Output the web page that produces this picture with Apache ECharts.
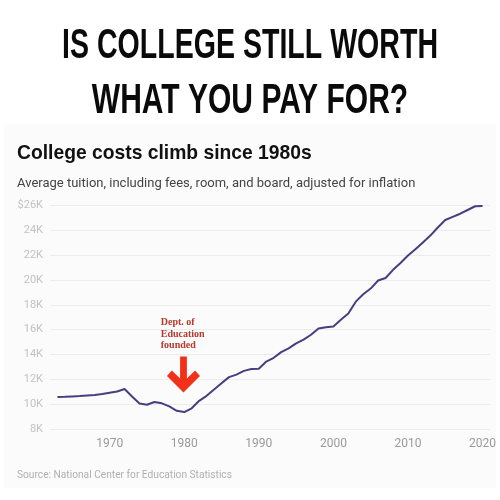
<!DOCTYPE html>
<html>
<head>
<meta charset="utf-8">
<script src="https://cdn.jsdelivr.net/npm/echarts@6/dist/echarts.min.js"></script>
<style>html,body{margin:0;padding:0;background:#fff;}#c{width:500px;height:500px;}</style>
</head>
<body>
<div id="c"></div>
<script>
const years = [1963,1964,1965,1966,1967,1968,1969,1970,1971,1972,1973,1974,1975,1976,1977,1978,1979,1980,1981,1982,1983,1984,1985,1986,1987,1988,1989,1990,1991,1992,1993,1994,1995,1996,1997,1998,1999,2000,2001,2002,2003,2004,2005,2006,2007,2008,2009,2010,2011,2012,2013,2014,2015,2016,2017,2018,2019,2020];
const costs = [10600,10620,10650,10680,10720,10760,10850,10950,11050,11250,10650,10080,9980,10200,10100,9850,9500,9400,9700,10300,10700,11200,11700,12200,12400,12700,12850,12870,13450,13750,14200,14500,14900,15200,15600,16100,16200,16250,16800,17300,18250,18850,19300,19950,20150,20800,21350,21950,22450,23000,23550,24200,24800,25050,25300,25600,25900,25920];
const xTicks = [1970,1980,1990,2000,2010,2020];
const yTicks = [8000,10000,12000,14000,16000,18000,20000,22000,24000,26000];
const headlineLines = ['IS COLLEGE STILL WORTH', 'WHAT YOU PAY FOR?'];
const chartTitle = 'College costs climb since 1980s';
const chartSubtitle = 'Average tuition, including fees, room, and board, adjusted for inflation';
const sourceText = 'Source: National Center for Education Statistics';
const annotationText = 'Dept. of\nEducation\nfounded';
const annotationAt = [1976.85, 17000];
const arrowAt = [1979.9, 12400];

const headFont = 'bold 42px "Liberation Sans", Arial, sans-serif';
const chart = echarts.init(document.getElementById('c'));
chart.setOption({
  animation: false,
  backgroundColor: '#ffffff',
  graphic: [
    {type: 'rect', z: -10, silent: true,
     shape: {x: 4, y: 124, width: 492, height: 364},
     style: {fill: '#fbfbfb'}},
    {type: 'text', x: 250, y: 46, scaleX: 0.68, silent: true,
     style: {text: headlineLines[0], font: headFont, fill: '#0a0a0a', align: 'center', verticalAlign: 'middle'}},
    {type: 'text', x: 250, y: 101, scaleX: 0.715, silent: true,
     style: {text: headlineLines[1], font: headFont, fill: '#0a0a0a', align: 'center', verticalAlign: 'middle'}}
  ],
  title: [
    {text: chartTitle, left: 12, top: 139,
     textStyle: {fontFamily: '"Liberation Sans", Arial, sans-serif', fontWeight: 'bold', fontSize: 19.3, color: '#111'}},
    {text: chartSubtitle, left: 12, top: 172,
     textStyle: {fontFamily: 'Roboto, sans-serif', fontWeight: 'normal', fontSize: 13, color: '#444'}},
    {text: sourceText, left: 12, top: 465,
     textStyle: {fontFamily: 'Roboto, sans-serif', fontWeight: 'normal', fontSize: 10.2, color: '#b0b0b0'}}
  ],
  grid: {left: 50, right: 10, top: 205, bottom: 70.5, containLabel: false},
  xAxis: {
    type: 'value', min: 1962, max: 2021,
    axisLine: {show: false}, axisTick: {show: false}, splitLine: {show: false},
    axisLabel: {customValues: xTicks, color: '#9a9a9a', fontSize: 12, fontFamily: 'Roboto, sans-serif', margin: 8, formatter: v => String(v)}
  },
  yAxis: {
    type: 'value', min: 8000, max: 26000, interval: 2000,
    axisLine: {show: false}, axisTick: {show: false},
    splitLine: {lineStyle: {color: '#ececec', width: 1}},
    axisLabel: {color: '#c2c2c2', fontSize: 11, fontFamily: 'Roboto, sans-serif', margin: 7,
      formatter: v => (v === yTicks[yTicks.length-1] ? '$' : '') + (v/1000) + 'K'}
  },
  series: [{
    type: 'line',
    data: years.map((y, i) => [y, costs[i]]),
    showSymbol: false,
    lineStyle: {color: '#463f80', width: 2},
    itemStyle: {color: '#463f80'},
    markPoint: {
      silent: true,
      data: [
        {coord: arrowAt, symbol: 'path://M13.5,0 L20.5,0 L20.5,22 L29,14 L34,19.5 L17,36 L0,19.5 L5,14 L13.5,22 Z',
         symbolSize: [33, 36], symbolKeepAspect: false, itemStyle: {color: '#f2311b'}, label: {show: false}},
        {coord: annotationAt, symbol: 'circle', symbolSize: 0,
         label: {show: true, position: [0, 0], align: 'left', verticalAlign: 'top', formatter: annotationText,
           fontFamily: '"Liberation Serif","DejaVu Serif",serif', fontWeight: 'bold', fontSize: 10, lineHeight: 11.2, color: '#b8382b'}}
      ]
    }
  }]
});
</script>
</body>
</html>
